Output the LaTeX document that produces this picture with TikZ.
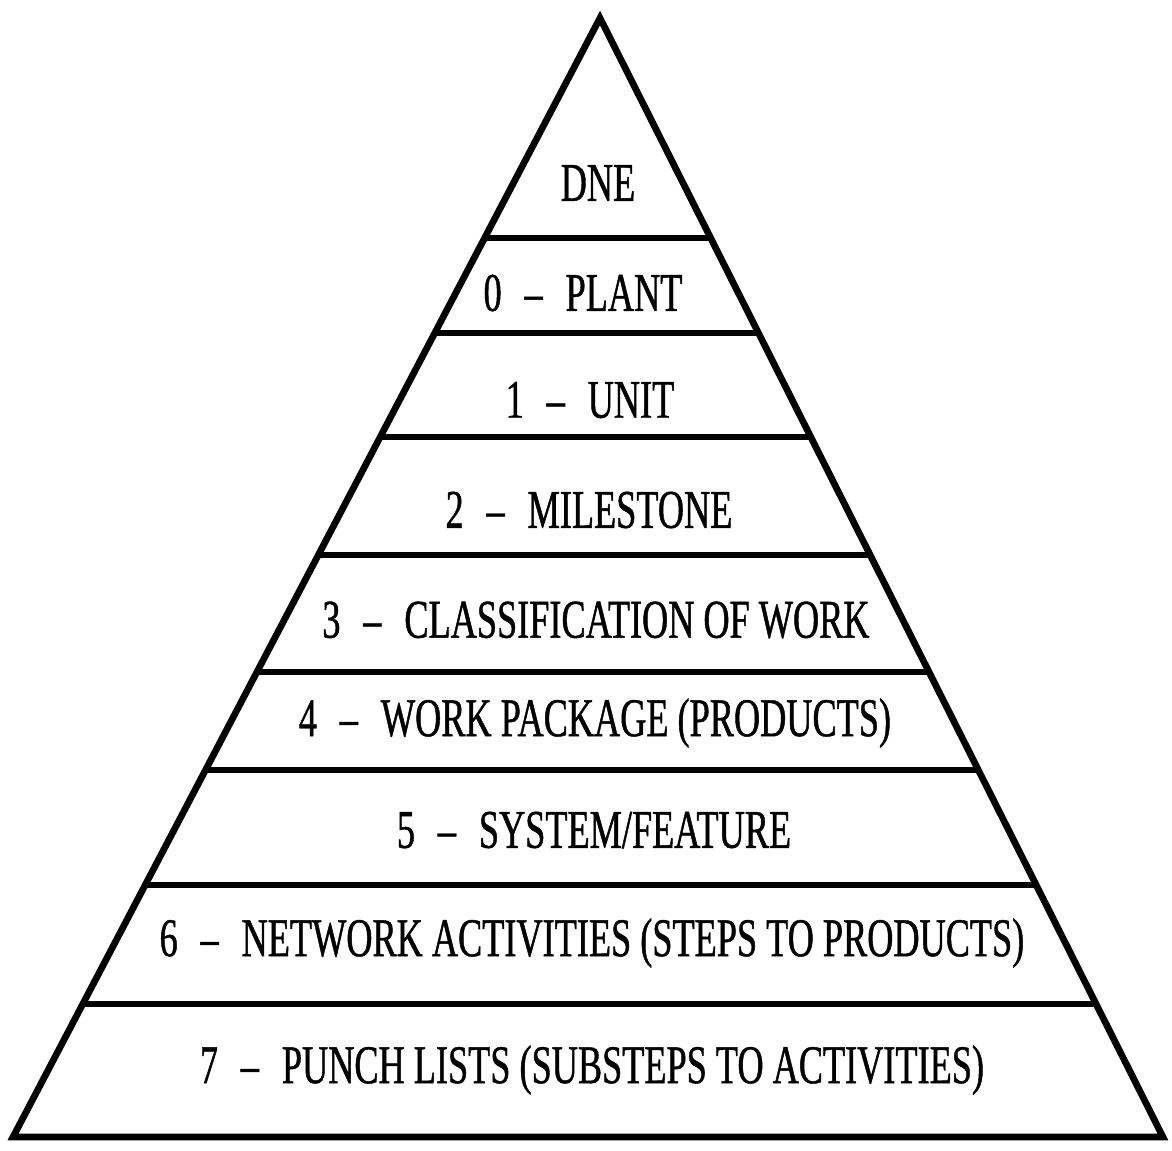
\documentclass[tikz,border=0pt]{standalone}
\usepackage{fontspec}
\setmainfont[FakeStretch=0.665,FakeBold=0.8]{Liberation Serif}
\usepackage{tikz}
\usetikzlibrary{calc}

\newcommand{\lsep}{\hspace{0.42em}--\hspace{0.42em}}

\begin{document}
\begin{tikzpicture}[x=0.01cm,y=-0.01cm,
        level/.style={font=\fontsize{15.5}{18}\selectfont, inner sep=0pt},
        edge/.style={line width=1.9pt, line join=miter}]
        \useasboundingbox (0,0) rectangle (1172,1150);

        \coordinate (apex) at (600,18);
        \coordinate (bl) at (13,1137);
        \coordinate (br) at (1163,1137);

        \draw[edge] (apex)--(bl)--(br)--cycle;

        \foreach \t in {0.1966,0.2815,0.3744,0.4799,0.5845,0.6720,0.7748,0.8811}
            \draw[edge] ($(apex)!\t!(bl)$)--($(apex)!\t!(br)$);

        \node[level] (dne) at (598,183) {DNE};
        \node[level] (plant) at (583,293) {0\lsep PLANT};
        \node[level] (unit) at (590,400) {1\lsep UNIT};
        \node[level] (mile) at (589,510) {2\lsep MILESTONE};
        \node[level] (class) at (596,620) {3\lsep CLASSIFICATION OF WORK};
        \node[level] (pack) at (595,723) {4\lsep WORK PACKAGE (PRODUCTS)};
        \node[level] (sys) at (594,830) {5\lsep SYSTEM/FEATURE};
        \node[level] (net) at (592,943) {6\lsep NETWORK ACTIVITIES (STEPS TO PRODUCTS)};
        \node[level] (punch) at (592,1070) {7\lsep PUNCH LISTS (SUBSTEPS TO ACTIVITIES)};
    \end{tikzpicture}
\end{document}
